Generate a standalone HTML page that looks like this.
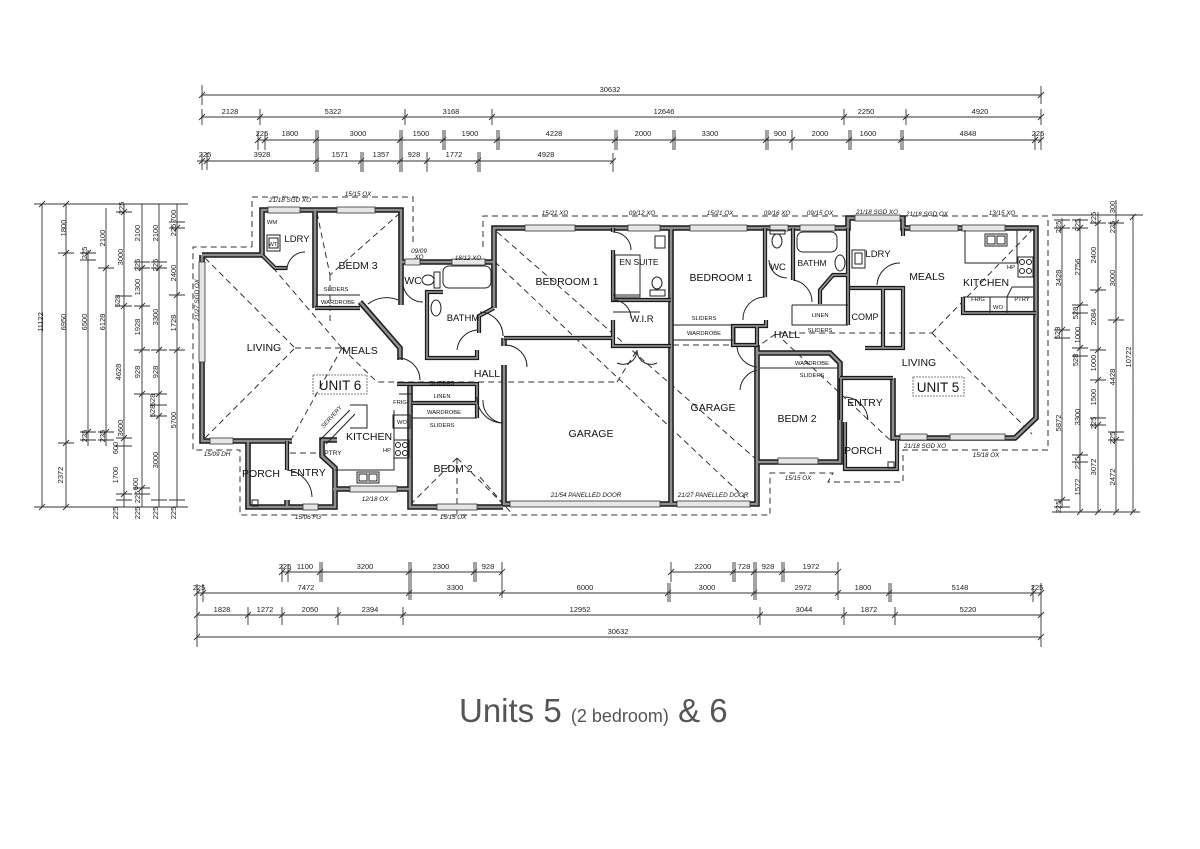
<!DOCTYPE html>
<html><head><meta charset="utf-8"><style>
html,body{margin:0;padding:0;background:#fff;}
svg{display:block;}
text{font-family:"Liberation Sans",Arial,sans-serif;}
.d{font-size:7.5px;fill:#222;text-anchor:middle;}
.r{font-size:10.5px;fill:#111;text-anchor:middle;}
.s{font-size:5.8px;fill:#111;text-anchor:middle;}
.w{font-size:6.3px;fill:#111;text-anchor:middle;font-style:italic;}
.dl{fill:none;stroke:#333;stroke-width:0.9;}
.wo{fill:none;stroke:#1a1a1a;stroke-width:5.6;stroke-linejoin:miter;}
.wi{fill:none;stroke:#8e8e8e;stroke-width:2.6;stroke-linejoin:miter;}
.po{fill:none;stroke:#1a1a1a;stroke-width:4.2;}
.pi{fill:none;stroke:#9a9a9a;stroke-width:1.6;}
.th{fill:none;stroke:#222;stroke-width:1;}
.ds{fill:none;stroke:#333;stroke-width:1;stroke-dasharray:6 4;}
.win{fill:#e6e6e6;stroke:#333;stroke-width:0.8;}
</style></head><body>
<svg width="1200" height="849" viewBox="0 0 1200 849" xmlns="http://www.w3.org/2000/svg">
<rect width="1200" height="849" fill="#fff"/>

<!-- TOP DIMENSIONS -->
<path class="dl" d="M202 95 H1041 M202 85 V105 M199 98 L205 92 M1041 86 V104 M1038 98 L1044 92"/>
<path class="dl" d="M202 117 H1041
M202 109 V125 M199 120 L205 114 M260 109 V125 M257 120 L263 114 M405 109 V125 M402 120 L408 114
M492 109 V125 M489 120 L495 114 M844 109 V125 M841 120 L847 114 M906 109 V125 M903 120 L909 114
M1041 109 V125 M1038 120 L1044 114"/>
<path class="dl" d="M258 140 H1041
M258 132 V150 M255 143 L261 137 M265 132 V150 M262 143 L268 137 M316 130 V150 M318 130 V150 M313 143 L319 137
M400 130 V150 M402 130 V150 M397 143 L403 137 M443 130 V150 M445 130 V150 M440 143 L446 137
M497 130 V150 M499 130 V150 M494 143 L500 137 M615 130 V150 M617 130 V150 M612 143 L618 137
M673 130 V150 M675 130 V150 M670 143 L676 137 M766 130 V150 M768 130 V150 M763 143 L769 137
M792 130 V150 M789 143 L795 137 M849 130 V150 M851 130 V150 M846 143 L852 137
M901 130 V150 M903 130 V150 M898 143 L904 137 M1035 132 V150 M1032 143 L1038 137 M1041 132 V150 M1038 143 L1044 137"/>
<path class="dl" d="M197 161 H613
M202 153 V170 M199 164 L205 158 M207 153 V170 M204 164 L210 158 M316 150 V172 M318 150 V172 M313 164 L319 158
M361 152 V172 M363 152 V172 M358 164 L364 158 M400 150 V172 M402 150 V172 M397 164 L403 158
M427 152 V172 M424 164 L430 158 M478 152 V172 M480 152 V172 M475 164 L481 158 M613 153 V172 M610 164 L616 158"/>
<g class="d">
<text x="610" y="92">30632</text>
<text x="230" y="114">2128</text><text x="333" y="114">5322</text><text x="451" y="114">3168</text><text x="664" y="114">12646</text><text x="866" y="114">2250</text><text x="980" y="114">4920</text>
<text x="262" y="136">225</text><text x="290" y="136">1800</text><text x="358" y="136">3000</text><text x="421" y="136">1500</text><text x="470" y="136">1900</text><text x="554" y="136">4228</text><text x="643" y="136">2000</text><text x="710" y="136">3300</text><text x="780" y="136">900</text><text x="820" y="136">2000</text><text x="868" y="136">1600</text><text x="968" y="136">4848</text><text x="1038" y="136">225</text>
<text x="205" y="157">225</text><text x="262" y="157">3928</text><text x="340" y="157">1571</text><text x="381" y="157">1357</text><text x="414" y="157">928</text><text x="454" y="157">1772</text><text x="546" y="157">4928</text>
</g>

<!-- BOTTOM DIMENSIONS -->
<path class="dl" d="M282 572 H502 M671 572 H838
M282 564 V582 M279 575 L285 569 M288 564 V582 M285 575 L291 569 M320 562 V582 M322 562 V582 M317 575 L323 569
M409 562 V600 M411 562 V600 M406 575 L412 569 M474 562 V582 M476 562 V582 M471 575 L477 569 M502 562 V598 M499 575 L505 569
M671 562 V582 M668 575 L674 569 M733 562 V582 M735 562 V582 M730 575 L736 569 M754 562 V600 M756 562 V600 M751 575 L757 569
M782 562 V582 M784 562 V582 M779 575 L785 569 M838 562 V600 M835 575 L841 569"/>
<path class="dl" d="M197 593 H1041
M197 584 V647 M194 596 L200 590 M203 584 V602 M200 596 L206 590 M406 596 L412 590 M499 596 L505 590
M668 583 V602 M670 583 V602 M665 596 L671 590 M751 596 L757 590 M835 596 L841 590
M889 583 V602 M891 583 V602 M886 596 L892 590 M1033 585 V602 M1030 596 L1036 590 M1041 583 V647 M1038 596 L1044 590"/>
<path class="dl" d="M197 615 H1041
M194 618 L200 612 M248 607 V625 M245 618 L251 612 M282 607 V625 M279 618 L285 612 M338 607 V625 M335 618 L341 612
M403 607 V625 M400 618 L406 612 M760 607 V625 M757 618 L763 612 M844 607 V625 M841 618 L847 612
M895 607 V625 M892 618 L898 612 M1038 618 L1044 612"/>
<path class="dl" d="M197 637 H1041 M194 640 L200 634 M1038 640 L1044 634"/>
<g class="d">
<text x="285" y="569">225</text><text x="305" y="569">1100</text><text x="365" y="569">3200</text><text x="441" y="569">2300</text><text x="488" y="569">928</text>
<text x="703" y="569">2200</text><text x="744" y="569">728</text><text x="768" y="569">928</text><text x="811" y="569">1972</text>
<text x="199" y="590">225</text><text x="306" y="590">7472</text><text x="455" y="590">3300</text><text x="585" y="590">6000</text><text x="707" y="590">3000</text><text x="803" y="590">2972</text><text x="863" y="590">1800</text><text x="960" y="590">5148</text><text x="1037" y="590">225</text>
<text x="222" y="612">1828</text><text x="265" y="612">1272</text><text x="310" y="612">2050</text><text x="370" y="612">2394</text><text x="580" y="612">12952</text><text x="804" y="612">3044</text><text x="869" y="612">1872</text><text x="968" y="612">5220</text>
<text x="618" y="634">30632</text>
</g>

<!-- LEFT DIMENSIONS -->
<path class="dl" d="M34 204 H188 M34 507 H188
M42 204 V507 M66 204 V507 M88 250 V446 M106 208 V446 M124 204 V507 M142 204 V507 M159 204 V507 M177 204 V507
M39 207 L45 201 M39 510 L45 504
M58 253 H74 M63 256 L69 250 M58 443 H74 M63 446 L69 440 M63 207 L69 201 M63 510 L69 504
M80 253 H96 M85 256 L91 250 M80 260 H96 M80 432 H96 M85 435 L91 429 M80 440 H96
M98 268 H114 M103 271 L109 265 M98 432 H114 M103 435 L109 429 M98 440 H114
M116 212 H132 M121 215 L127 209 M116 296 H132 M116 306 H132 M121 309 L127 303 M116 438 H132 M121 441 L127 435 M116 446 H132 M116 494 H132 M121 497 L127 491 M116 500 H132
M134 262 H150 M134 268 H150 M139 271 L145 265 M134 306 H150 M139 309 L145 303 M134 350 H150 M139 353 L145 347 M134 394 H150 M139 397 L145 391 M134 488 H150 M139 491 L145 485 M134 494 H150
M151 262 H167 M151 268 H167 M156 271 L162 265 M151 350 H167 M156 353 L162 347 M151 394 H167 M156 397 L162 391 M151 405 H167 M151 416 H167 M156 419 L162 413 M151 500 H167
M169 222 H185 M169 228 H185 M174 231 L180 225 M169 295 H185 M174 298 L180 292 M169 350 H185 M174 353 L180 347 M169 500 H185"/>
<g class="d">
<text transform="rotate(-90 43 322)" x="43" y="322">11122</text>
<text transform="rotate(-90 66 228)" x="66" y="228">1800</text>
<text transform="rotate(-90 66 322)" x="66" y="322">6950</text>
<text transform="rotate(-90 63 475)" x="63" y="475">2372</text>
<text transform="rotate(-90 87 253)" x="87" y="253">225</text>
<text transform="rotate(-90 87 322)" x="87" y="322">6500</text>
<text transform="rotate(-90 87 436)" x="87" y="436">225</text>
<text transform="rotate(-90 105 238)" x="105" y="238">2100</text>
<text transform="rotate(-90 105 322)" x="105" y="322">6128</text>
<text transform="rotate(-90 105 436)" x="105" y="436">225</text>
<text transform="rotate(-90 124 208)" x="124" y="208">225</text>
<text transform="rotate(-90 123 257)" x="123" y="257">3000</text>
<text transform="rotate(-90 120 301)" x="120" y="301">528</text>
<text transform="rotate(-90 121 372)" x="121" y="372">4628</text>
<text transform="rotate(-90 123 428)" x="123" y="428">3600</text>
<text transform="rotate(-90 118 448)" x="118" y="448">600</text>
<text transform="rotate(-90 118 475)" x="118" y="475">1700</text>
<text transform="rotate(-90 118 513)" x="118" y="513">225</text>
<text transform="rotate(-90 140 233)" x="140" y="233">2100</text>
<text transform="rotate(-90 140 265)" x="140" y="265">225</text>
<text transform="rotate(-90 140 287)" x="140" y="287">1300</text>
<text transform="rotate(-90 140 327)" x="140" y="327">1928</text>
<text transform="rotate(-90 140 372)" x="140" y="372">928</text>
<text transform="rotate(-90 138 484)" x="138" y="484">600</text>
<text transform="rotate(-90 140 497)" x="140" y="497">225</text>
<text transform="rotate(-90 140 513)" x="140" y="513">225</text>
<text transform="rotate(-90 158 233)" x="158" y="233">2100</text>
<text transform="rotate(-90 158 265)" x="158" y="265">225</text>
<text transform="rotate(-90 158 317)" x="158" y="317">3300</text>
<text transform="rotate(-90 158 372)" x="158" y="372">928</text>
<text transform="rotate(-90 155 400)" x="155" y="400">528</text>
<text transform="rotate(-90 155 411)" x="155" y="411">528</text>
<text transform="rotate(-90 158 460)" x="158" y="460">3000</text>
<text transform="rotate(-90 158 513)" x="158" y="513">225</text>
<text transform="rotate(-90 176 216)" x="176" y="216">700</text>
<text transform="rotate(-90 176 230)" x="176" y="230">225</text>
<text transform="rotate(-90 176 273)" x="176" y="273">2400</text>
<text transform="rotate(-90 176 323)" x="176" y="323">1728</text>
<text transform="rotate(-90 176 420)" x="176" y="420">5700</text>
<text transform="rotate(-90 176 513)" x="176" y="513">225</text>
</g>

<!-- RIGHT DIMENSIONS -->
<path class="dl" d="M1052 215 H1143 M1052 512 H1140
M1062 218 V508 M1080 218 V512 M1098 212 V512 M1116 200 V512 M1133 215 V512
M1054 220 H1070 M1054 228 H1070 M1059 231 L1065 225 M1054 330 H1070 M1059 333 L1065 327 M1054 338 H1070 M1054 500 H1070 M1059 503 L1065 497 M1054 507 H1070
M1072 220 H1088 M1072 228 H1088 M1077 231 L1083 225 M1072 305 H1088 M1077 308 L1083 302 M1072 313 H1088 M1072 348 H1088 M1077 351 L1083 345 M1072 356 H1088 M1072 455 H1088 M1077 458 L1083 452 M1072 462 H1088 M1077 515 L1083 509
M1090 215 H1106 M1090 223 H1106 M1095 226 L1101 220 M1090 290 H1106 M1095 293 L1101 287 M1090 350 H1106 M1095 353 L1101 347 M1090 380 H1106 M1095 383 L1101 377 M1090 418 H1106 M1090 425 H1106 M1095 428 L1101 422 M1095 515 L1101 509
M1108 215 H1124 M1108 223 H1124 M1113 226 L1119 220 M1108 320 H1124 M1113 323 L1119 317 M1108 432 H1124 M1108 440 H1124 M1113 443 L1119 437 M1113 515 L1119 509
M1130 220 L1136 214 M1130 515 L1136 509"/>
<g class="d">
<text transform="rotate(-90 1061 227)" x="1061" y="227">225</text>
<text transform="rotate(-90 1061 278)" x="1061" y="278">3428</text>
<text transform="rotate(-90 1060 333)" x="1060" y="333">528</text>
<text transform="rotate(-90 1061 423)" x="1061" y="423">5872</text>
<text transform="rotate(-90 1061 507)" x="1061" y="507">225</text>
<text transform="rotate(-90 1080 225)" x="1080" y="225">225</text>
<text transform="rotate(-90 1080 267)" x="1080" y="267">2756</text>
<text transform="rotate(-90 1078 313)" x="1078" y="313">528</text>
<text transform="rotate(-90 1080 335)" x="1080" y="335">1000</text>
<text transform="rotate(-90 1078 360)" x="1078" y="360">528</text>
<text transform="rotate(-90 1080 417)" x="1080" y="417">3300</text>
<text transform="rotate(-90 1080 463)" x="1080" y="463">225</text>
<text transform="rotate(-90 1080 487)" x="1080" y="487">1572</text>
<text transform="rotate(-90 1096 218)" x="1096" y="218">225</text>
<text transform="rotate(-90 1096 255)" x="1096" y="255">2400</text>
<text transform="rotate(-90 1096 317)" x="1096" y="317">2084</text>
<text transform="rotate(-90 1096 363)" x="1096" y="363">1000</text>
<text transform="rotate(-90 1096 397)" x="1096" y="397">1500</text>
<text transform="rotate(-90 1096 423)" x="1096" y="423">225</text>
<text transform="rotate(-90 1096 467)" x="1096" y="467">3072</text>
<text transform="rotate(-90 1115 207)" x="1115" y="207">300</text>
<text transform="rotate(-90 1115 227)" x="1115" y="227">225</text>
<text transform="rotate(-90 1115 278)" x="1115" y="278">3000</text>
<text transform="rotate(-90 1115 377)" x="1115" y="377">4428</text>
<text transform="rotate(-90 1115 438)" x="1115" y="438">225</text>
<text transform="rotate(-90 1115 477)" x="1115" y="477">2472</text>
<text transform="rotate(-90 1131 357)" x="1131" y="357">10722</text>
</g>

<!-- ROOF OUTLINE (dashed) -->
<path class="ds" d="M252 247 V197 H413 V245 M483 247 V216 H1048 V450 H903 V482 H828 L833 473 H770 V515 H240 V450 H193 V247 H252"/>

<!-- HIP LINES (dashed) -->
<path class="ds" d="M205 258 L295 348 M205 438 L295 348 M295 348 H342 M342 348 L275 270 M342 348 L377 382 H617 M342 348 L292 438
M317 213 L330 275 M400 213 L330 275 M330 275 V325
M457 458 L412 503 M457 458 L502 503 M457 458 V517
M497 232 L757 460 M495 262 L745 498 M480 477 L513 515 M617 382 L637 350
M673 345 H760 L777 333 H932 M932 333 L1036 226 M932 333 L1032 434 M783 340 L890 440
M290 453 H322"/>

<!-- MAIN WALLS -->
<g>
<path class="wo" d="M202 255 V441 H292 M202 255 H262 V210 H401 V305 M401 262 H494 M494 308 V228 H848 V218 H903 V228 H1036 V418 L1015 438 H893 V378 M757 345 V504 H504 V365 M504 338 V346 M671 228 V504 M757 353 H830 L840 363 V462 H757 M248 440 V507 H287 M287 500 V507 H335 V468 L322 456 V440 H337 M333 489 H410 V507 H503 M410 384 V507 M315 210 V308 M360 302 L400 348 V360"/>
<path class="wi" d="M202 255 V441 H292 M202 255 H262 V210 H401 V305 M401 262 H494 M494 308 V228 H848 V218 H903 V228 H1036 V418 L1015 438 H893 V378 M757 345 V504 H504 V365 M504 338 V346 M671 228 V504 M757 353 H830 L840 363 V462 H757 M248 440 V507 H287 M287 500 V507 H335 V468 L322 456 V440 H337 M333 489 H410 V507 H503 M410 384 V507 M315 210 V308 M360 302 L400 348 V360"/>
</g>
<g>
<path class="po" d="M287 441 V470 M262 255 L275 268 H287 M315 308 H360 M494 308 L479 316 V333 M477 350 V358 H427 V292 H443 M504 338 H613 M613 228 V232 M613 250 V300 H671 M613 320 V346 H671 M765 228 V297 M766 320 V326 H733 V345 H757 V326 M793 228 V280 M848 228 V325 M848 275 H833 L820 290 V304 M903 228 V236 M850 288 H903 V348 H865 M883 288 V348 M963 297 V313 H1036 M840 378 H893 M841 378 V420 M845 422 V469 H897 V440 M397 384 H477 V418 M412 403 H477"/>
<path class="pi" d="M287 441 V470 M262 255 L275 268 H287 M315 308 H360 M494 308 L479 316 V333 M477 350 V358 H427 V292 H443 M504 338 H613 M613 228 V232 M613 250 V300 H671 M613 320 V346 H671 M765 228 V297 M766 320 V326 H733 V345 H757 V326 M793 228 V280 M848 228 V325 M848 275 H833 L820 290 V304 M903 228 V236 M850 288 H903 V348 H865 M883 288 V348 M963 297 V313 H1036 M840 378 H893 M841 378 V420 M845 422 V469 H897 V440 M397 384 H477 V418 M412 403 H477"/>
</g>

<!-- WINDOWS -->
<g class="win">
<rect x="268" y="207" width="32" height="6"/><rect x="337" y="207" width="38" height="6"/>
<rect x="405" y="259" width="15" height="6"/><rect x="452" y="259" width="33" height="6"/>
<rect x="525" y="225" width="50" height="6"/><rect x="628" y="225" width="32" height="6"/>
<rect x="690" y="225" width="57" height="6"/><rect x="770" y="225" width="18" height="6"/>
<rect x="800" y="225" width="35" height="6"/><rect x="855" y="215" width="45" height="6"/>
<rect x="910" y="225" width="48" height="6"/><rect x="962" y="225" width="43" height="6"/>
<rect x="199" y="262" width="6" height="100"/>
<rect x="210" y="438" width="23" height="6"/><rect x="350" y="486" width="47" height="6"/>
<rect x="303" y="504" width="15" height="6"/><rect x="437" y="504" width="40" height="6"/>
<rect x="510" y="501" width="150" height="6"/><rect x="677" y="501" width="73" height="6"/>
<rect x="778" y="458" width="40" height="6"/><rect x="900" y="434" width="27" height="6"/>
<rect x="950" y="434" width="55" height="6"/>
</g>

<!-- DOORS -->
<path class="th" d="M287 270 A18 18 0 0 1 305 252 M368 304 A30 30 0 0 1 398 300 M398 358 A22 22 0 0 1 420 380 M403 285 A20 20 0 0 0 423 302 M457 350 A22 22 0 0 1 477 330 M477 397 A26 26 0 0 0 503 423 M480 312 A24 24 0 0 1 503 336 M505 345 A22 22 0 0 1 527 367 M483 400 A22 22 0 0 0 503 423 M287 470 A28 28 0 0 1 312 497 M613 232 A18 18 0 0 1 631 250 M613 300 A18 18 0 0 1 631 318 M765 297 A22 22 0 0 0 743 320 M757 367 A22 22 0 0 1 737 347 M757 370 A22 22 0 0 0 740 390 M769 260 A18 18 0 0 0 787 278 M793 280 A22 22 0 0 1 812 302 M877 285 A23 23 0 0 1 900 263 M845 397 A24 24 0 0 1 868 420 M637 350 A14 14 0 0 1 617 363 M637 350 A14 14 0 0 0 657 363"/>

<!-- FIXTURES / JOINERY -->
<g class="th">
<ellipse cx="428" cy="280" rx="6" ry="5"/><rect x="434" y="272" width="6" height="16"/>
<rect x="443" y="266" width="48" height="22" rx="6"/><ellipse cx="436" cy="308" rx="5" ry="8"/>
<ellipse cx="657" cy="283" rx="5" ry="6"/><rect x="650" y="290" width="15" height="6"/>
<rect x="655" y="236" width="10" height="12"/><rect x="615" y="255" width="25" height="42"/>
<ellipse cx="777" cy="241" rx="5" ry="7"/><rect x="770" y="230" width="15" height="4"/>
<rect x="797" y="232" width="40" height="20" rx="6"/><ellipse cx="840" cy="263" rx="5" ry="8"/>
<rect x="852" y="250" width="13" height="18"/><rect x="855" y="253" width="7" height="11"/>
<rect x="985" y="234" width="22" height="12"/><rect x="987" y="236" width="8" height="8"/><rect x="997" y="236" width="8" height="8"/>
<rect x="1018" y="257" width="15" height="20"/><circle cx="1022" cy="262" r="2.5"/><circle cx="1029" cy="262" r="2.5"/><circle cx="1022" cy="271" r="2.5"/><circle cx="1029" cy="271" r="2.5"/>
<path d="M965 230 V263 H1017 V230 M963 297 H1033 M1012 287 H1033 M1012 287 L1007 297 M990 297 V313 M1007 297 V313"/>
<rect x="357" y="472" width="22" height="11"/><rect x="359" y="474" width="8" height="7"/><rect x="369" y="474" width="8" height="7"/>
<rect x="394" y="440" width="15" height="18"/><circle cx="398" cy="445" r="2.5"/><circle cx="405" cy="445" r="2.5"/><circle cx="398" cy="453" r="2.5"/><circle cx="405" cy="453" r="2.5"/>
<rect x="267" y="235" width="13" height="16"/><rect x="269" y="238" width="9" height="10"/>
<rect x="393" y="415" width="17" height="13"/>
<rect x="252" y="500" width="6" height="6"/><rect x="888" y="462" width="6" height="6"/>
<path d="M350 405 H367 V428 H350 M394 410 V470 H335 M320 440 L350 410 M326 444 L355 414 M316 295 H360 M792 305 H848 M792 305 V325 H848 M673 325 H733 M673 340 H733 M760 368 H838 M399 394 H412 M412 418 H477 M735 327 V343 M613 312 H640 M613 295 H640"/>
</g>

<!-- UNIT BOXES -->
<rect x="313" y="375" width="54" height="19" fill="none" stroke="#555" stroke-width="0.8" stroke-dasharray="2 1"/>
<rect x="913" y="377" width="51" height="19" fill="none" stroke="#555" stroke-width="0.8" stroke-dasharray="2 1"/>
<text x="340" y="390" style="font-size:13.5px;fill:#111;text-anchor:middle">UNIT 6</text>
<text x="938" y="392" style="font-size:13.5px;fill:#111;text-anchor:middle">UNIT 5</text>

<!-- ROOM LABELS -->
<g class="r">
<text x="297" y="242" style="font-size:9.5px">LDRY</text>
<text x="358" y="269">BEDM 3</text>
<text x="413" y="284">WC</text>
<text x="463" y="321" style="font-size:9.5px">BATHM</text>
<text x="264" y="351">LIVING</text>
<text x="360" y="354">MEALS</text>
<text x="487" y="377">HALL</text>
<text x="369" y="440">KITCHEN</text>
<text x="453" y="472">BEDM 2</text>
<text x="261" y="477">PORCH</text>
<text x="308" y="476">ENTRY</text>
<text x="567" y="285">BEDROOM 1</text>
<text x="639" y="265" style="font-size:8.5px">EN SUITE</text>
<text x="642" y="322" style="font-size:9.5px">W.I.R</text>
<text x="721" y="281">BEDROOM 1</text>
<text x="591" y="437">GARAGE</text>
<text x="713" y="411">GARAGE</text>
<text x="778" y="270" style="font-size:9.5px">WC</text>
<text x="812" y="266" style="font-size:8.5px">BATHM</text>
<text x="878" y="257" style="font-size:9.5px">LDRY</text>
<text x="927" y="280">MEALS</text>
<text x="986" y="286">KITCHEN</text>
<text x="865" y="320" style="font-size:9px">COMP</text>
<text x="787" y="338">HALL</text>
<text x="919" y="366">LIVING</text>
<text x="865" y="406">ENTRY</text>
<text x="797" y="422">BEDM 2</text>
<text x="863" y="454">PORCH</text>
</g>

<!-- SMALL LABELS -->
<g class="s">
<text x="272" y="224">WM</text><text x="273" y="246">WT</text>
<text x="336" y="291">SLIDERS</text><text x="338" y="304">WARDROBE</text>
<text x="442" y="385">SLIDERS</text><text x="442" y="398">LINEN</text><text x="444" y="414">WARDROBE</text><text x="442" y="427">SLIDERS</text>
<text x="400" y="404">FRIG</text><text x="402" y="424">WO</text><text x="333" y="455" style="font-size:6.5px">PTRY</text><text x="387" y="452">HP</text>
<text transform="rotate(-48 333 418)" x="333" y="418">SERVERY</text>
<text x="704" y="320">SLIDERS</text><text x="704" y="335">WARDROBE</text>
<text x="820" y="317">LINEN</text><text x="820" y="332">SLIDERS</text>
<text x="812" y="365">WARDROBE</text><text x="812" y="377">SLIDERS</text>
<text x="978" y="301">FRIG</text><text x="998" y="309">WO</text><text x="1022" y="301">PTRY</text><text x="1011" y="269">HP</text>
</g>

<!-- WINDOW LABELS -->
<g class="w">
<text x="290" y="202">21/18 SGD XO</text><text x="358" y="196">15/15 OX</text>
<text x="419" y="253">09/09</text><text x="419" y="259">XO</text><text x="468" y="260">18/12 XO</text>
<text x="555" y="215">15/21 XO</text><text x="642" y="215">09/12 XO</text><text x="720" y="215">15/21 OX</text>
<text x="777" y="215">09/16 XO</text><text x="820" y="215">09/15 OX</text><text x="877" y="214">21/18 SGD XO</text>
<text x="927" y="216">21/18 SGD OX</text><text x="1002" y="215">13/15 XO</text>
<text transform="rotate(-90 199 300)" x="199" y="300">21/27 SGD OX</text>
<text x="217" y="456">15/09 DH</text><text x="375" y="501">12/18 OX</text><text x="308" y="519">15/06 FG</text>
<text x="453" y="519">15/15 OX</text><text x="586" y="497">21/54 PANELLED DOOR</text><text x="713" y="497">21/27 PANELLED DOOR</text>
<text x="798" y="480">15/15 OX</text><text x="925" y="448">21/18 SGD XO</text><text x="986" y="457">15/18 OX</text>
</g>

<!-- TITLE -->
<text x="459" y="722" style="font-size:33px;fill:#555;">Units 5 <tspan style="font-size:18px">(2 bedroom)</tspan> &amp; 6</text>
</svg>
</body></html>
